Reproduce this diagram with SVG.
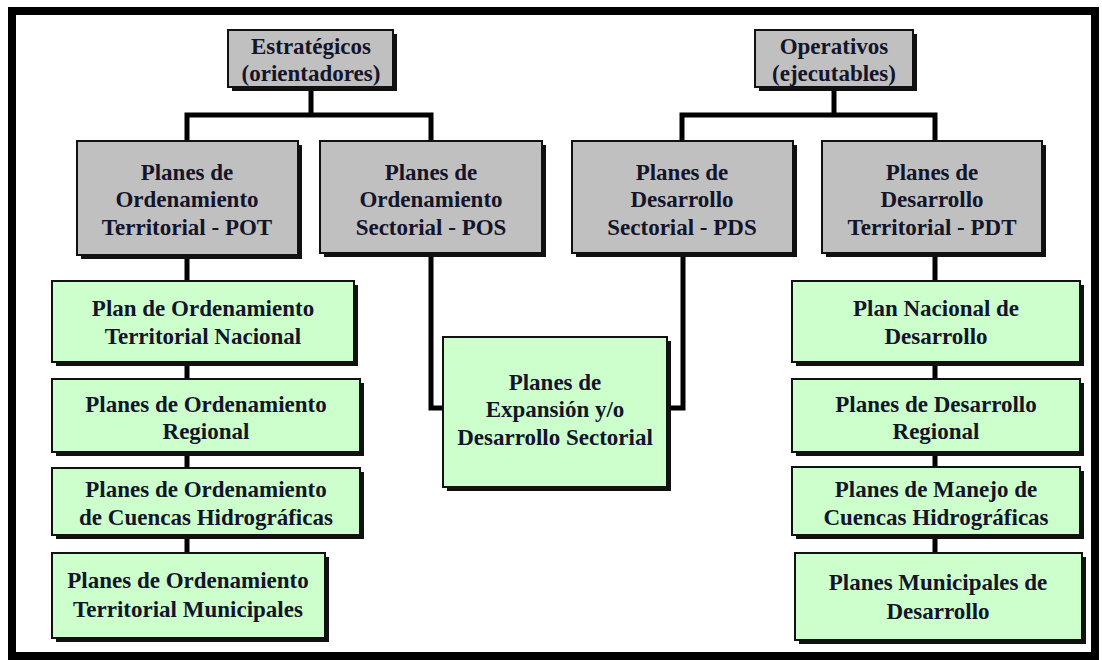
<svg xmlns="http://www.w3.org/2000/svg" width="1102" height="660" viewBox="0 0 1102 660">
<defs>
<style>
.frame{fill:#fff;stroke:#000;stroke-width:8}
.sh{fill:#111}
.g{fill:#c0c0c0;stroke:#111;stroke-width:2}
.v{fill:#ccffcc;stroke:#111;stroke-width:2}
.t{font-family:"Liberation Serif","Times New Roman",serif;font-weight:bold;font-size:23px;fill:#14142a;text-anchor:middle}
.c{fill:none;stroke:#000;stroke-width:5;stroke-linejoin:miter}
</style>
</defs>
<rect class="frame" x="12" y="11" width="1083" height="645"/>
<g id="connectors">
<path class="c" d="M311 88V115M187 141V115H431V141"/>
<path class="c" d="M834 88V115M682 141V115H935V141"/>
<path class="c" d="M187 256V281M187 363V379M187 452V468M187 535V553"/>
<path class="c" d="M935 255V281M935 363V379M935 452V467M935 535V553"/>
<path class="c" d="M431 254V408H443"/>
<path class="c" d="M683 254V408H667"/>
</g>
<g id="estrategicos">
<rect class="sh" x="232" y="34" width="165" height="57"/>
<rect class="g" x="228" y="30" width="165" height="57"/>
<text class="t" x="311" y="54">Estratégicos</text>
<text class="t" x="311" y="81">(orientadores)</text>
</g>
<g id="operativos">
<rect class="sh" x="759" y="34" width="158" height="57"/>
<rect class="g" x="755" y="30" width="158" height="57"/>
<text class="t" x="834" y="54">Operativos</text>
<text class="t" x="834" y="81">(ejecutables)</text>
</g>
<g id="pot">
<rect class="sh" x="81" y="145" width="221" height="114"/>
<rect class="g" x="77" y="141" width="221" height="114"/>
<text class="t" x="187" y="180">Planes de</text>
<text class="t" x="187" y="207">Ordenamiento</text>
<text class="t" x="187" y="235">Territorial - POT</text>
</g>
<g id="pos">
<rect class="sh" x="324" y="145" width="222" height="112"/>
<rect class="g" x="320" y="141" width="222" height="112"/>
<text class="t" x="431" y="180">Planes de</text>
<text class="t" x="431" y="207">Ordenamiento</text>
<text class="t" x="431" y="235">Sectorial - POS</text>
</g>
<g id="pds">
<rect class="sh" x="576" y="145" width="221" height="112"/>
<rect class="g" x="572" y="141" width="221" height="112"/>
<text class="t" x="682" y="180">Planes de</text>
<text class="t" x="682" y="207">Desarrollo</text>
<text class="t" x="682" y="235">Sectorial - PDS</text>
</g>
<g id="pdt">
<rect class="sh" x="826" y="145" width="220" height="112"/>
<rect class="g" x="822" y="141" width="220" height="112"/>
<text class="t" x="932" y="180">Planes de</text>
<text class="t" x="932" y="207">Desarrollo</text>
<text class="t" x="932" y="235">Territorial - PDT</text>
</g>
<g id="pot-nacional">
<rect class="sh" x="56" y="285" width="302" height="81"/>
<rect class="v" x="52" y="281" width="302" height="81"/>
<text class="t" x="203" y="316">Plan de Ordenamiento</text>
<text class="t" x="203" y="344">Territorial Nacional</text>
</g>
<g id="pot-regional">
<rect class="sh" x="56" y="383" width="308" height="73"/>
<rect class="v" x="52" y="379" width="308" height="73"/>
<text class="t" x="206" y="412">Planes de Ordenamiento</text>
<text class="t" x="206" y="439">Regional</text>
</g>
<g id="pot-cuencas">
<rect class="sh" x="56" y="472" width="308" height="67"/>
<rect class="v" x="52" y="468" width="308" height="67"/>
<text class="t" x="206" y="497">Planes de Ordenamiento</text>
<text class="t" x="206" y="525">de Cuencas Hidrográficas</text>
</g>
<g id="pot-municipales">
<rect class="sh" x="56" y="557" width="273" height="85"/>
<rect class="v" x="52" y="553" width="273" height="85"/>
<text class="t" x="188" y="588">Planes de Ordenamiento</text>
<text class="t" x="188" y="617">Territorial Municipales</text>
</g>
<g id="expansion">
<rect class="sh" x="447" y="341" width="224" height="150"/>
<rect class="v" x="443" y="337" width="224" height="150"/>
<text class="t" x="555" y="390">Planes de</text>
<text class="t" x="555" y="417">Expansión y/o</text>
<text class="t" x="555" y="445">Desarrollo Sectorial</text>
</g>
<g id="pnd">
<rect class="sh" x="796" y="285" width="288" height="81"/>
<rect class="v" x="792" y="281" width="288" height="81"/>
<text class="t" x="936" y="316">Plan Nacional de</text>
<text class="t" x="936" y="344">Desarrollo</text>
</g>
<g id="pd-regional">
<rect class="sh" x="796" y="383" width="288" height="73"/>
<rect class="v" x="792" y="379" width="288" height="73"/>
<text class="t" x="936" y="412">Planes de Desarrollo</text>
<text class="t" x="936" y="439">Regional</text>
</g>
<g id="pm-cuencas">
<rect class="sh" x="796" y="471" width="288" height="68"/>
<rect class="v" x="792" y="467" width="288" height="68"/>
<text class="t" x="936" y="497">Planes de Manejo de</text>
<text class="t" x="936" y="525">Cuencas Hidrográficas</text>
</g>
<g id="pm-desarrollo">
<rect class="sh" x="799" y="557" width="287" height="87"/>
<rect class="v" x="795" y="553" width="287" height="87"/>
<text class="t" x="938" y="590">Planes Municipales de</text>
<text class="t" x="938" y="619">Desarrollo</text>
</g>
</svg>
